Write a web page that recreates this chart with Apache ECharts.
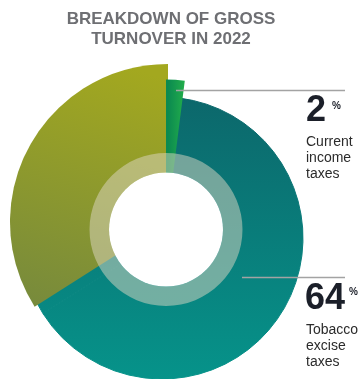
<!DOCTYPE html>
<html>
<head>
<meta charset="utf-8">
<script src="https://cdn.jsdelivr.net/npm/echarts@6/dist/echarts.min.js"></script>
<style>
html,body{margin:0;padding:0;background:#fff;}
#chart{width:360px;height:379px;}
</style>
</head>
<body>
<div id="chart"></div>
<script>
// ---- data ----
const titleLines = ['BREAKDOWN OF GROSS', 'TURNOVER IN 2022'];
const categories = ['Current income taxes', 'Tobacco excise taxes', 'Other'];
const shares = [2, 64, 34];
const labelWords = [['Current', 'income', 'taxes'], ['Tobacco', 'excise', 'taxes']];

// ---- styles ----
const FONT = '"Liberation Sans", Arial, sans-serif';
const tealColor = {type:'linear', global:true, x:0, y:95, x2:0, y2:379,
  colorStops:[{offset:0,color:'#0c676b'},{offset:1,color:'#06938a'}]};
const oliveColor = {type:'linear', global:true, x:120, y:64, x2:40, y2:310,
  colorStops:[{offset:0,color:'#a3a81f'},{offset:1,color:'#778a3c'}]};
const greenColor = {type:'linear', global:true, x:168, y:0, x2:188, y2:0,
  colorStops:[{offset:0,color:'#0b8a50'},{offset:1,color:'#27b44a'}]};

const sliceColors = [greenColor, tealColor, oliveColor];
const sliceGeom = [
  {center:[166, 229.5], r:150},
  {center:[162, 238], r:141},
  {center:[168, 222], r:158}
];

function makeData(showIdx, fill){
  return shares.map((v, i) => ({
    name: categories[i],
    value: v,
    itemStyle: {color: (i === showIdx || fill) ? sliceColors[showIdx] : 'rgba(0,0,0,0)'}
  }));
}

function pieSeries(idx, z, fill){
  return {
    type:'pie', z:z, silent:true, animation:false,
    center: sliceGeom[idx].center, radius:[0, sliceGeom[idx].r],
    startAngle:90, clockwise:true,
    label:{show:false}, labelLine:{show:false},
    emphasis:{disabled:true},
    itemStyle: fill ? {borderWidth:1, borderColor:sliceColors[idx]} : {borderWidth:0},
    data: makeData(idx, fill)
  };
}

const series = [
  pieSeries(1, 2, true),   // teal base
  pieSeries(2, 3, false),  // olive
  pieSeries(0, 4, false)   // green
];

const graphics = [
  {type:'ring', z:100, shape:{cx:166, cy:229.5, r:76.5, r0:57}, style:{fill:'rgba(222,215,196,0.5)'}},
  {type:'circle', z:100, shape:{cx:166, cy:229.5, r:57}, style:{fill:'#ffffff'}},
  {type:'text', z:100, x:171, y:19, style:{text:titleLines[0], font:'bold 17px '+FONT, fill:'#6e6f73', align:'center', verticalAlign:'middle'}},
  {type:'text', z:100, x:171, y:39.5, style:{text:titleLines[1], font:'bold 17px '+FONT, fill:'#6e6f73', align:'center', verticalAlign:'middle'}},
  {type:'line', z:100, shape:{x1:176, y1:90.5, x2:345, y2:90.5}, style:{stroke:'#a3a3a3', lineWidth:1.5}},
  {type:'line', z:100, shape:{x1:242, y1:277.5, x2:345, y2:277.5}, style:{stroke:'#a3a3a3', lineWidth:1.5}},
  // values
  {type:'text', z:100, x:306, y:111.5, style:{text:String(shares[0]), font:'bold 36px '+FONT, fill:'#1b1f29', align:'left', verticalAlign:'middle'}},
  {type:'text', z:100, x:332, y:106.5, style:{text:'%', font:'bold 10px '+FONT, fill:'#1b1f29', align:'left', verticalAlign:'middle'}},
  {type:'text', z:100, x:305, y:299, style:{text:String(shares[1]), font:'bold 36px '+FONT, fill:'#1b1f29', align:'left', verticalAlign:'middle'}},
  {type:'text', z:100, x:349, y:292, style:{text:'%', font:'bold 10px '+FONT, fill:'#1b1f29', align:'left', verticalAlign:'middle'}}
];
labelWords[0].forEach((w, i) => graphics.push({type:'text', z:100, x:306, y:142 + i*16,
  style:{text:w, font:'14px '+FONT, fill:'#2b2b2b', align:'left', verticalAlign:'middle'}}));
labelWords[1].forEach((w, i) => graphics.push({type:'text', z:100, x:306, y:330 + i*16,
  style:{text:w, font:'14px '+FONT, fill:'#2b2b2b', align:'left', verticalAlign:'middle'}}));

const chart = echarts.init(document.getElementById('chart'), null, {renderer:'canvas'});
chart.setOption({
  animation:false,
  backgroundColor:'#ffffff',
  series: series,
  graphic: {elements: graphics}
});
</script>
</body>
</html>
